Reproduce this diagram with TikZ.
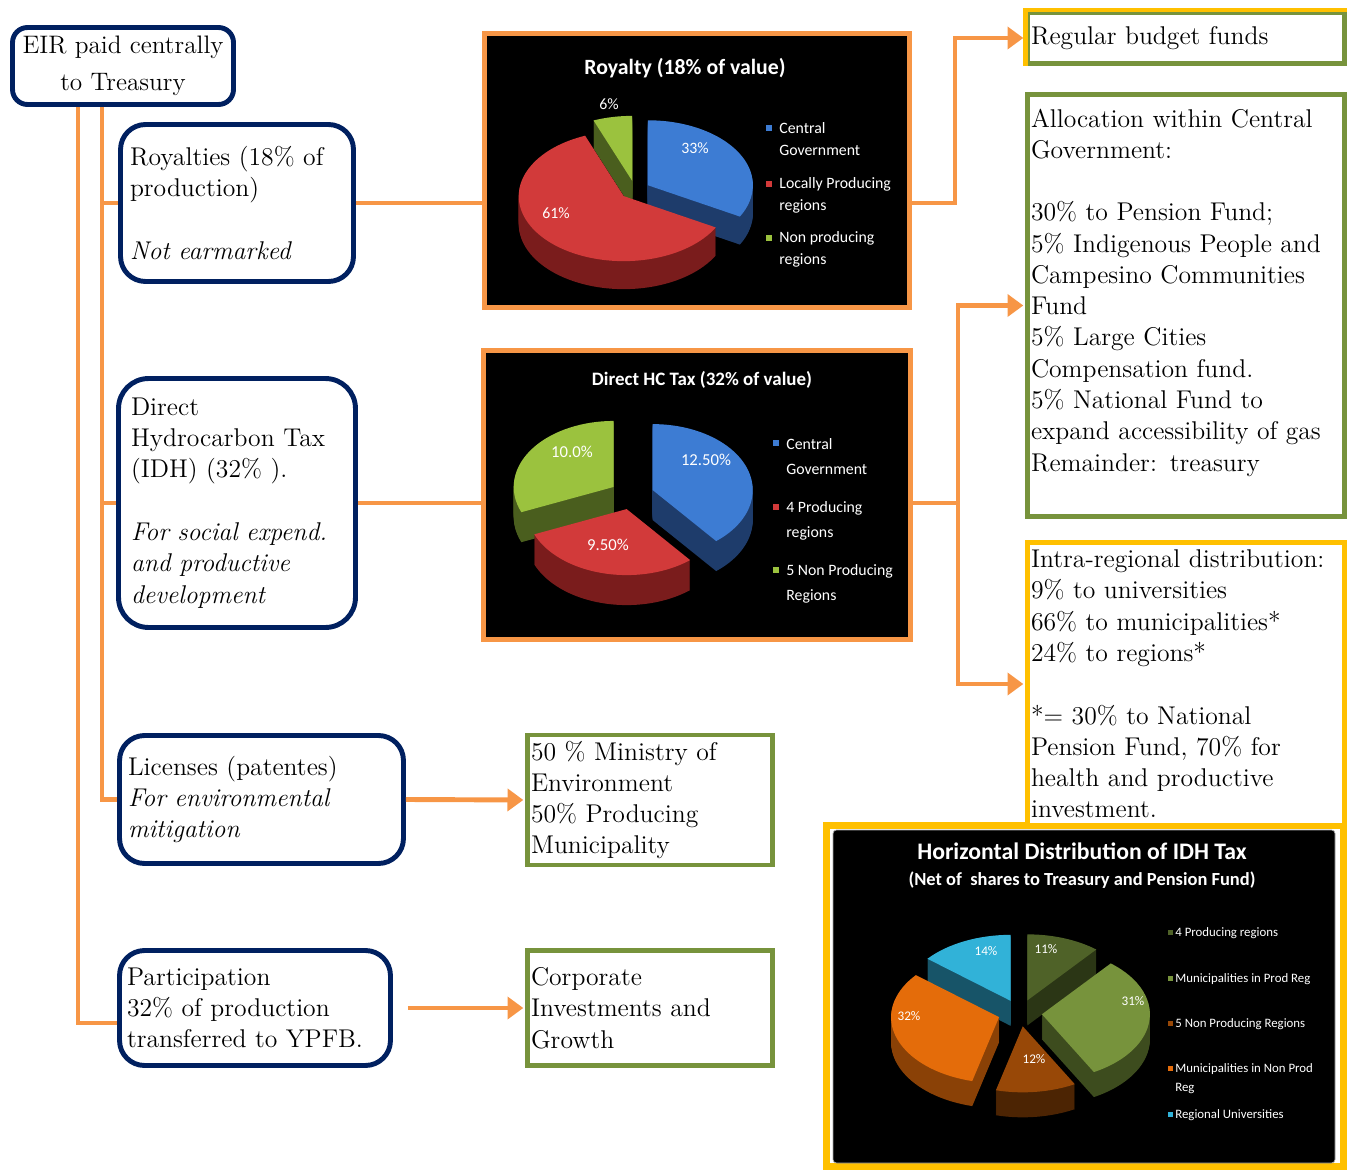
\documentclass[tikz,border=0pt]{standalone}
\usepackage{fontspec}
\newfontfamily\chartfont{Carlito}
\usetikzlibrary{arrows.meta, positioning}

\definecolor{navy}{HTML}{002060}
\definecolor{flow}{HTML}{F79646}
\definecolor{olive}{HTML}{77933C}
\definecolor{gold}{HTML}{FFC000}
\definecolor{blueTop}{HTML}{3D7CD3}
\definecolor{blueSide}{HTML}{1E3C6B}
\definecolor{redTop}{HTML}{D23A3A}
\definecolor{redSide}{HTML}{7A1C1C}
\definecolor{greenTop}{HTML}{9BC23E}
\definecolor{greenSide}{HTML}{4A5E1E}
\definecolor{mossTop}{HTML}{4F6228}
\definecolor{mossSide}{HTML}{2B3615}
\definecolor{leafTop}{HTML}{77933C}
\definecolor{leafSide}{HTML}{3D4C1E}
\definecolor{rustTop}{HTML}{984807}
\definecolor{rustSide}{HTML}{4C2403}
\definecolor{amberTop}{HTML}{E46C0A}
\definecolor{amberSide}{HTML}{8A4106}
\definecolor{skyTop}{HTML}{31B2D8}
\definecolor{skySide}{HTML}{175468}

\newcommand{\boxfont}{\fontsize{14.6}{17.8}\selectfont}
\newcommand{\pieX}{100}\newcommand{\pieY}{65}\newcommand{\pieD}{28}
% one exploded 3-D slice: centre x, centre y, start, end, explode, top, side
\newcommand{\pieslice}[7]{%
  \begin{scope}[shift={(#1,#2)}, yscale=-1,
      shift={({#5*cos((#3+#4)/2)},{#5*sin((#3+#4)/2)*\pieY/\pieX})}]
    \foreach \d in {1,...,\pieD}
      \fill[#7] (0,-\d) -- ++({\pieX*cos(#3)},{\pieY*sin(#3)})
        arc[start angle=#3, end angle=#4, x radius=\pieX, y radius=\pieY] -- cycle;
    \fill[#6] (0,0) -- ({\pieX*cos(#3)},{\pieY*sin(#3)})
      arc[start angle=#3, end angle=#4, x radius=\pieX, y radius=\pieY] -- cycle;
  \end{scope}}

\begin{document}
\begin{tikzpicture}[x=0.02cm, y=-0.02cm,
  fundbox/.style={draw=navy, line width=2.8pt, rounded corners=0.5cm, fill=white, align=left, font=\boxfont},
  sharebox/.style={draw=olive, line width=2.8pt, fill=white, align=left, font=\boxfont,
    inner xsep=0.07cm, text width=6.2cm},
  chartframe/.style={draw=flow, line width=2.8pt, fill=black},
  link/.style={draw=flow, line width=2.8pt},
  feed/.style={link, -{Triangle[length=9pt,width=12.5pt]}, shorten >=1pt},
  charttitle/.style={text=white, inner sep=0pt},
  slicelabel/.style={text=white, inner sep=0pt, font=\chartfont\fontsize{9}{11}\selectfont},
  legendA/.style={text=white, align=left, anchor=west, inner sep=0pt, font=\chartfont\fontsize{9}{12.5}\selectfont},
  legendB/.style={legendA, font=\chartfont\fontsize{9}{14.2}\selectfont},
  legendC/.style={legendA, font=\chartfont\fontsize{7.3}{10.8}\selectfont}
]
\useasboundingbox (0,0) rectangle (1349,1172);

% left column: revenue streams
\node[fundbox, rounded corners=0.3cm, align=center, minimum width=4.42cm, minimum height=1.54cm,
  font=\fontsize{14.4}{21}\selectfont] (eir) at (123,66) {EIR paid centrally\\to Treasury};
\node[fundbox, text width=4.28cm, inner xsep=0.19cm, minimum height=3.14cm] (roy) at (237,203)
  {Royalties (18\% of\\production)\\[17.8pt]\itshape Not earmarked};
\node[fundbox, rounded corners=0.6cm, text width=4.24cm, inner xsep=0.25cm, minimum height=4.98cm] (idh) at (237,503)
  {Direct\\Hydrocarbon Tax\\(IDH) (32\% ).\\[17.8pt]\itshape For social expend.\\and productive\\development};
\node[fundbox, text width=5.34cm, inner xsep=0.17cm, minimum height=2.56cm] (lic) at (261.5,799.5)
  {Licenses (patentes)\\\itshape For environmental\\mitigation};
\node[fundbox, text width=5.12cm, inner xsep=0.15cm, minimum height=2.3cm] (part) at (255,1008)
  {Participation\\32\% of production\\transferred to YPFB.};

% middle column
\node[sharebox, text width=4.76cm, minimum height=2.58cm] (fifty) at (650,800)
  {50 \% Ministry of\\Environment\\50\% Producing\\Municipality};
\node[sharebox, text width=4.76cm, minimum height=2.3cm] (corp) at (650,1008)
  {Corporate\\Investments and\\Growth};

% royalty chart
\node[chartframe, minimum width=8.5cm, minimum height=5.48cm] (chartA) at (697,170.5) {};
\node[charttitle, font=\chartfont\bfseries\fontsize{12.4}{14}\selectfont] (titleA) at (685,68) {Royalty (18\% of value)};
\renewcommand{\pieX}{105}\renewcommand{\pieY}{65}\renewcommand{\pieD}{28}
\pieslice{635}{190}{111.6}{90}{15}{greenTop}{greenSide}
\pieslice{635}{190}{90}{-28.8}{15}{blueTop}{blueSide}
\pieslice{635}{190}{-28.8}{-248.4}{15}{redTop}{redSide}
\node[slicelabel] (pctA1) at (609,104) {6\%};
\node[slicelabel] (pctA2) at (695,148) {33\%};
\node[slicelabel] (pctA3) at (556,213) {61\%};
\foreach \txt/\yy/\col [count=\k] in {{Central\\Government}/139/blueTop,
    {Locally Producing\\regions}/195/redTop, {Non producing\\regions}/249/greenTop} {
  \fill[\col] (766,\yy-14) rectangle ++(6,6);
  \node[legendA] (legA\k) at (779,\yy) {\txt};
}

% direct HC tax chart
\node[chartframe, minimum width=8.54cm, minimum height=5.78cm] (chartB) at (697,495) {};
\node[charttitle, font=\chartfont\bfseries\fontsize{10.8}{13}\selectfont] (titleB) at (702,380) {Direct HC Tax (32\% of value)};
\renewcommand{\pieX}{100}\renewcommand{\pieY}{66}\renewcommand{\pieD}{30}
\pieslice{632}{495}{202.5}{90}{22}{greenTop}{greenSide}
\pieslice{632}{495}{90}{-50.6}{22}{blueTop}{blueSide}
\pieslice{632}{495}{-50.6}{-157.5}{22}{redTop}{redSide}
\node[slicelabel, font=\chartfont\fontsize{9.5}{11}\selectfont] (pctB1) at (572,452) {10.0\%};
\node[slicelabel, font=\chartfont\fontsize{9.5}{11}\selectfont] (pctB2) at (706,460) {12.50\%};
\node[slicelabel, font=\chartfont\fontsize{9.5}{11}\selectfont] (pctB3) at (608,545) {9.50\%};
\foreach \txt/\yy/\col [count=\k] in {{Central\\Government}/456.5/blueTop,
    {4 Producing\\regions}/520.5/redTop, {5 Non Producing\\Regions}/583.5/greenTop} {
  \fill[\col] (773,\yy-16.5) rectangle ++(6,6);
  \node[legendB] (legB\k) at (786,\yy) {\txt};
}

% right column: destinations
\node[sharebox, minimum height=1.02cm] (reg) at (1186,38) {Regular budget funds};
\draw[gold, line width=2.8pt] (reg.south west) -- (reg.north west) -- (reg.north east);
\node[sharebox, minimum height=8.44cm] (alloc) at (1186,305.5)
  {Allocation within Central\\Government:\\[17.8pt]30\% to Pension Fund;\\5\% Indigenous People and\\Campesino Communities\\Fund\\5\% Large Cities\\Compensation fund.\\5\% National Fund to\\expand accessibility of gas\\Remainder: treasury\\\mbox{}};

% horizontal distribution chart
\node[draw=gold, line width=3.97pt, fill=white, minimum width=10.34cm, minimum height=6.82cm] (chartC) at (1085,996) {};
\draw[gray!70, fill=black, rounded corners=2pt] (833,830) rectangle (1335,1163);
\node[charttitle, font=\chartfont\bfseries\fontsize{13.5}{16}\selectfont] (titleC) at (1082,851) {Horizontal Distribution of IDH Tax};
\node[charttitle, font=\chartfont\bfseries\fontsize{10.5}{12}\selectfont] (subC) at (1082,880) {(Net of~ shares to Treasury and Pension Fund)};
\renewcommand{\pieX}{108}\renewcommand{\pieY}{66}\renewcommand{\pieD}{25}
\pieslice{1020}{1013}{140.4}{90}{22}{skyTop}{skySide}
\pieslice{1020}{1013}{90}{50.4}{22}{mossTop}{mossSide}
\pieslice{1020}{1013}{50.4}{-61.2}{22}{leafTop}{leafSide}
\pieslice{1020}{1013}{255.6}{140.4}{22}{amberTop}{amberSide}
\pieslice{1020}{1013}{-61.2}{-104.4}{22}{rustTop}{rustSide}
\node[slicelabel, font=\chartfont\fontsize{7.5}{9}\selectfont] (pctC1) at (986,951) {14\%};
\node[slicelabel, font=\chartfont\fontsize{7.5}{9}\selectfont] (pctC2) at (1046,949) {11\%};
\node[slicelabel, font=\chartfont\fontsize{7.5}{9}\selectfont] (pctC3) at (1133,1001) {31\%};
\node[slicelabel, font=\chartfont\fontsize{7.5}{9}\selectfont] (pctC4) at (909,1016) {32\%};
\node[slicelabel, font=\chartfont\fontsize{7.5}{9}\selectfont] (pctC5) at (1034,1059) {12\%};
\foreach \txt/\yy/\sq/\col [count=\k] in {{4 Producing regions}/933/933/mossTop,
    {Municipalities in Prod Reg}/979/979/leafTop, {5 Non Producing Regions}/1024/1024/rustTop,
    {Municipalities in Non Prod\\Reg}/1078.5/1069/amberTop, {Regional Universities}/1115/1115/skyTop} {
  \fill[\col] (1168,\sq-3) rectangle ++(5,5);
  \node[legendC] (legC\k) at (1175,\yy) {\txt};
}

\node[sharebox, draw=gold, minimum height=5.66cm] (intra) at (1186,684)
  {Intra-regional distribution:\\9\% to universities\\66\% to municipalities*\\24\% to regions*\\[17.8pt]*= 30\% to National\\Pension Fund, 70\% for\\health and productive\\investment.};

% connectors
\coordinate (trunkL) at (78,0);
\coordinate (trunkR) at (102,0);
\coordinate (forkA) at (955,0);
\coordinate (forkB) at (958,0);
\draw[link] (eir.south -| trunkL) |- ([yshift=-0.3cm]part.west);
\draw[link] (eir.south -| trunkR) |- (lic.west);
\draw[link] (roy.west -| trunkR) -- (roy.west);
\draw[link] (idh.west -| trunkR) -- (idh.west);
\draw[link] (roy.east) -- (roy.east -| chartA.west);
\draw[feed] (roy.east -| chartA.east) -- (roy.east -| forkA) |- (reg.west);
\draw[link] (idh.east) -- (idh.east -| chartB.west);
\draw[link] (idh.east -| chartB.east) -- (idh.east -| forkB);
\draw[feed] (idh.east -| forkB) |- (alloc.west);
\draw[feed] (idh.east -| forkB) |- (intra.west);
\draw[feed] (lic.east) -- (fifty.west);
\draw[feed, shorten <=0.3cm] (part.east) -- (part.east -| corp.west);
\end{tikzpicture}
\end{document}
